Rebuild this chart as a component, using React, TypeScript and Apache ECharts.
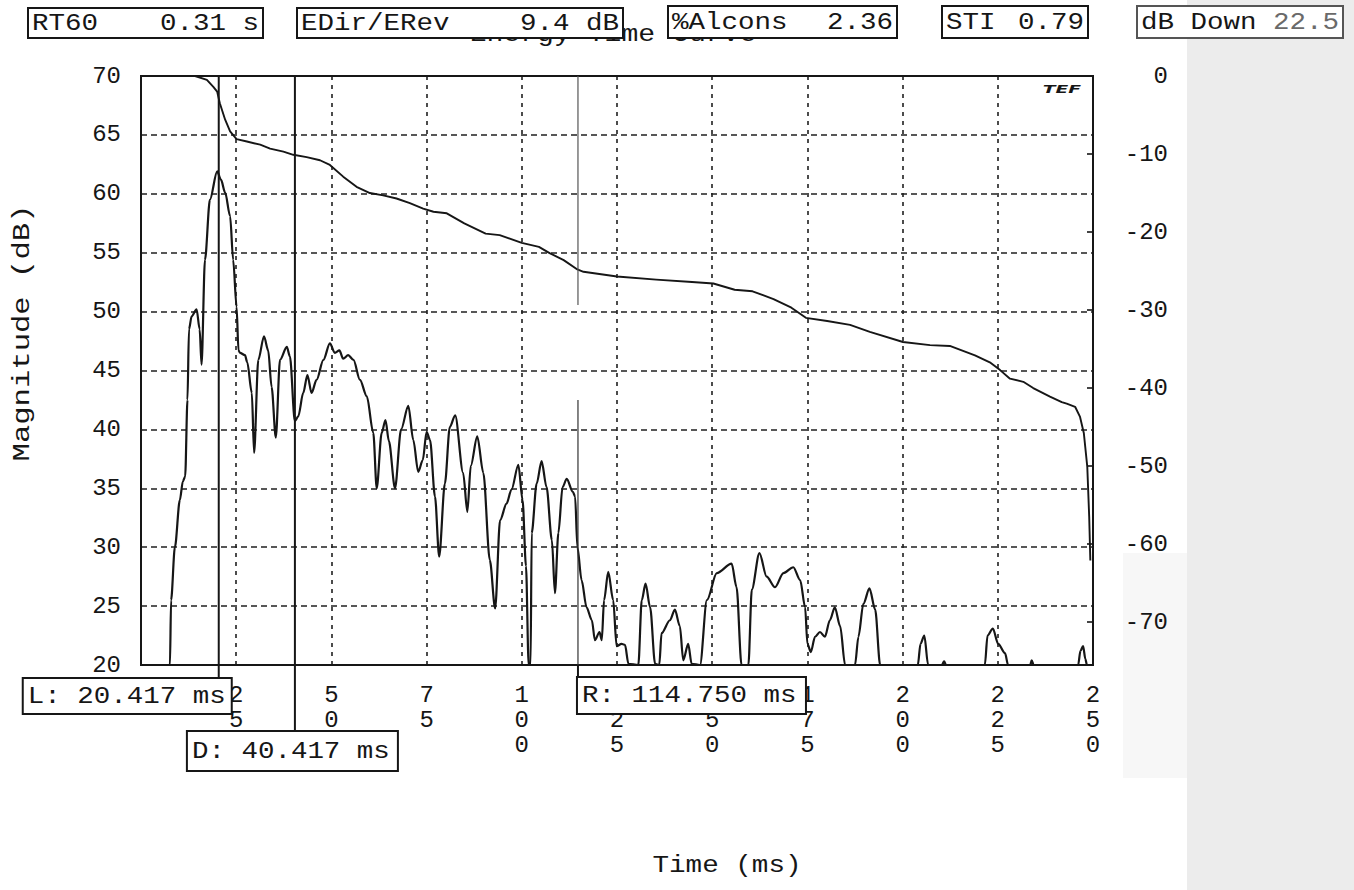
import React, { useEffect, useRef } from "react";
import * as echarts from "echarts";

// Energy time curve (ETC) samples: time in ms, level in dB (left scale)
const etcTime = [
  0.0, 7.6, 7.9, 8.9, 10.2, 11.0, 11.6, 12.2, 12.6, 13.3, 14.6, 15.4, 15.9, 16.8, 18.1, 20.0, 21.0, 22.1, 23.4,
  24.2, 25.1, 25.6, 26.0, 27.3, 27.9, 29.1, 29.7, 30.8, 32.3, 33.4, 34.3, 35.4, 36.5, 38.3, 39.1, 40.4, 41.3,
  42.6, 43.7, 44.8, 46.1, 47.9, 49.6, 50.9, 52.1, 53.1, 54.4, 55.8, 57.5, 59.3, 61.0, 61.9, 63.2, 64.2, 65.1,
  66.7, 68.3, 70.2, 71.5, 72.8, 74.0, 75.0, 75.9, 77.2, 78.3, 79.8, 81.1, 82.5, 84.6, 85.7, 86.6, 88.3, 89.9,
  91.6, 93.0, 94.3, 96.0, 97.3, 99.1, 100.2, 101.1, 101.8, 102.3, 102.6, 103.9, 105.2, 106.5, 107.9, 108.7,
  109.6, 110.7, 111.8, 113.4, 114.0, 114.6, 115.7, 117.0, 118.4, 119.2, 120.4, 121.0, 121.6, 122.7, 124.0,
  124.9, 126.2, 127.1, 128.0, 130.6, 131.5, 132.5, 133.7, 135.0, 136.1, 136.7, 138.9, 140.2, 141.5, 142.4,
  143.7, 144.6, 146.8, 148.6, 151.2, 155.1, 156.4, 157.7, 159.5, 160.4, 162.4, 164.3, 166.5, 168.7, 171.3,
  173.1, 174.4, 175.0, 175.9, 177.0, 178.3, 179.6, 180.9, 182.2, 183.6, 184.9, 187.5, 188.4, 189.7, 191.3,
  192.8, 194.1, 204.0, 204.7, 205.7, 206.7, 210.3, 210.9, 211.4, 221.6, 222.3, 223.7, 225.1, 226.9, 227.7,
  233.5, 233.9, 234.4, 246.1, 246.7, 247.4, 248.0, 248.4, 250.0,
];
const etcLevel = [
  20.0, 20.0, 25.5, 30.0, 34.0, 35.6, 36.0, 42.5, 48.5, 49.6, 50.2, 48.5, 45.5, 54.4, 59.5, 61.9, 61.2, 60.1, 58.1,
  54.4, 50.4, 46.7, 46.5, 46.3, 45.7, 43.1, 38.0, 45.9, 47.9, 46.7, 43.6, 39.3, 45.9, 47.0, 46.2, 40.7, 41.1,
  43.1, 44.6, 43.1, 44.2, 45.9, 47.3, 46.5, 46.7, 46.0, 46.3, 45.9, 44.2, 42.8, 39.7, 35.0, 39.7, 40.8, 39.0,
  35.0, 40.0, 42.0, 39.1, 36.4, 37.4, 39.8, 39.1, 34.3, 29.2, 35.4, 40.2, 41.2, 36.3, 33.0, 36.9, 39.4, 36.3,
  28.9, 24.8, 32.3, 33.7, 34.9, 37.0, 34.0, 28.4, 20.0, 20.0, 31.2, 35.4, 37.3, 35.1, 30.6, 26.1,
  31.2, 35.1, 35.8, 34.7, 34.3, 30.0, 27.2, 24.9, 23.8, 22.1, 22.8, 22.1, 25.5, 27.9, 25.5,
  21.6, 21.8, 21.7, 20.1, 20.0, 25.5, 26.9, 24.9, 20.1, 20.0, 22.7, 23.8, 24.7, 23.3, 20.4,
  21.8, 20.1, 20.0, 25.5, 27.8, 28.6, 26.6, 20.0, 20.0, 26.4, 29.5, 27.5, 26.6, 27.8, 28.3,
  27.2, 24.9, 21.8, 21.1, 22.4, 22.8, 22.4, 23.8, 24.9, 23.3, 20.0, 20.0, 22.4, 25.2, 26.5,
  24.7, 20.0, 20.0, 21.8, 22.5, 20.0, 20.0, 20.3, 20.0, 20.0, 22.5, 23.1, 21.8, 21.0, 20.0,
  20.0, 20.4, 20.0, 20.0, 21.2, 21.6, 20.5, 20.0, 20.0,
];

// Schroeder decay: time in ms, level in dB (right scale)
const decayTime = [
  0.0, 14.2, 17.3, 19.0, 20.0, 20.7, 22.1, 23.4, 25.1, 27.8, 31.3, 33.9, 37.4, 40.0, 43.5, 47.0, 49.6, 53.1,
  56.6, 60.1, 63.6, 67.1, 70.6, 74.1, 76.8, 80.3, 84.9, 90.5, 94.2, 100.0, 104.5, 107.3, 111.0, 114.6, 116.2,
  125.0, 135.3, 144.7, 150.3, 155.9, 160.6, 166.1, 170.8, 174.6, 180.2, 186.2, 191.4, 200.1, 207.2, 212.4,
  219.0, 222.9, 225.6, 228.2, 231.7, 234.3, 238.7, 241.8, 243.1, 245.3, 246.6, 247.6, 248.5, 249.0, 249.3,
];
const decayLevel = [
  0.0, 0.0, -0.5, -1.4, -2.0, -3.5, -5.6, -7.1, -8.1, -8.4, -8.8, -9.3, -9.7, -10.1, -10.4, -10.8, -11.4, -12.9,
  -14.2, -15.0, -15.3, -15.7, -16.3, -17.0, -17.4, -17.6, -18.9, -20.2, -20.4, -21.4, -21.9, -22.7, -23.6, -24.8, -25.1,
  -25.7, -26.1, -26.4, -26.6, -27.4, -27.6, -28.6, -29.7, -31.0, -31.4, -31.9, -32.8, -34.1, -34.5, -34.6,
  -35.8, -36.7, -37.7, -38.8, -39.2, -40.0, -41.1, -41.8, -42.0, -42.4, -43.7, -45.8, -50.1, -56.5, -62.1,
];

// Axis ranges
const timeRange = [0, 250];
const timeStep = 25;
const magRange = [20, 70];
const magStep = 5;
const decayRange = [-75.5, 0];

// Readouts shown along the top
const readoutNames = ["RT60", "EDir/ERev", "%Alcons", "STI", "dB Down"];
const readoutValues = ["0.31 s", "9.4 dB", "2.36", "0.79", "22.5"];

// Cursor markers
const markerNames = ["L", "D", "R"];
const markerTimes = [20.417, 40.417, 114.75];

const FONT = "'Liberation Mono', 'DejaVu Sans Mono', monospace";
const INK = "#161616";
const CHAR_W = 0.6;
const FS = 24;

const GRID = { left: 141, top: 76, width: 952, height: 589 };

// layout of the readout boxes along the top
const readoutBoxes = [
  { x: 28, y: 8, w: 235, h: 30 },
  { x: 297, y: 8, w: 326, h: 30 },
  { x: 668, y: 6, w: 229, h: 32 },
  { x: 942, y: 6, w: 146, h: 32 },
  { x: 1137, y: 6, w: 206, h: 32 },
];

function txt(
  text: string,
  x: number,
  y: number,
  size: number,
  align: string,
  scaleX: number,
  extra: any = {}
) {
  return {
    type: "text",
    x,
    y,
    scaleX,
    z: extra.z ?? 20,
    rotation: extra.rotation ?? 0,
    silent: true,
    style: {
      text,
      fontFamily: extra.fontFamily ?? FONT,
      fontSize: size,
      fontStyle: extra.fontStyle ?? "normal",
      fontWeight: extra.fontWeight ?? "normal",
      fill: extra.fill ?? INK,
      textAlign: align,
      align,
      textVerticalAlign: "middle",
      verticalAlign: "middle",
    },
  };
}

function fitScale(text: string, size: number, width: number) {
  return width / (text.length * CHAR_W * size);
}

function box(x: number, y: number, w: number, h: number, extra: any = {}) {
  return {
    type: "rect",
    z: extra.z ?? 18,
    silent: true,
    shape: { x, y, width: w, height: h },
    style: { fill: extra.fill ?? "#fff", stroke: extra.stroke ?? INK, lineWidth: extra.lineWidth ?? 2 },
  };
}

function vline(x: number, y1: number, y2: number, width: number, color: string, z = 16) {
  return {
    type: "line",
    z,
    silent: true,
    shape: { x1: x, y1, x2: x, y2 },
    style: { stroke: color, lineWidth: width },
  };
}

function buildGraphics(px: (v: number) => number) {
  const g: any[] = [];
  const BOX_SCALE = 16.5 / (CHAR_W * FS);

  // scanned paper edge on the right
  g.push({ type: "rect", z: -5, silent: true, shape: { x: 1187, y: 0, width: 167, height: 890 }, style: { fill: "#ececec" } });
  g.push({ type: "rect", z: -5, silent: true, shape: { x: 1123, y: 553, width: 64, height: 225 }, style: { fill: "#f7f7f7" } });

  // title, partly hidden by the readout boxes
  const title = "Energy Time Curve";
  g.push(txt(title, 613, 35, FS, "center", fitScale(title, FS, 287), { z: 10 }));

  // readouts
  readoutNames.forEach((name, i) => {
    const b = readoutBoxes[i];
    const last = i === readoutNames.length - 1;
    g.push(box(b.x, b.y, b.w, b.h, last ? { stroke: "#555" } : {}));
    const cy = b.y + b.h / 2 + 1;
    g.push(txt(name, b.x + 4, cy, FS, "left", BOX_SCALE));
    g.push(txt(readoutValues[i], b.x + b.w - 4, cy, FS, "right", BOX_SCALE, last ? { fill: "#6a6a6a" } : {}));
  });

  // cursor lines and their readouts
  const top = GRID.top;
  const bottom = GRID.top + GRID.height;
  const xs = markerTimes.map(px);
  const labels = markerNames.map((n, i) => `${n}: ${markerTimes[i].toFixed(3)} ms`);

  // L
  g.push(vline(xs[0], top, 678, 2, INK));
  g.push(box(xs[0] - 196, 678, 209, 36));
  g.push(txt(labels[0], xs[0] - 191, 697, FS, "left", BOX_SCALE));
  // D
  g.push(vline(xs[1], top, 733, 2, INK));
  g.push(box(xs[1] - 108, 731, 211, 40));
  g.push(txt(labels[1], xs[1] - 103, 752, FS, "left", BOX_SCALE));
  // R
  g.push(vline(xs[2], top, 305, 1.2, "#555"));
  g.push(vline(xs[2], 400, bottom, 1.2, "#333"));
  g.push(vline(xs[2], bottom, 677, 2, INK));
  g.push(box(xs[2] - 1, 677, 229, 37));
  g.push(txt(labels[2], xs[2] + 4, 696, FS, "left", BOX_SCALE));

  // axis names
  const yName = "Magnitude (dB)";
  g.push(txt(yName, 22, 333, FS, "center", fitScale(yName, FS, 257), { rotation: Math.PI / 2 }));
  const xName = "Time (ms)";
  g.push(txt(xName, 727, 866, FS, "center", fitScale(xName, FS, 149)));

  // maker's mark in the corner
  g.push(
    txt("TEF", 1062, 89, 11, "center", 1.7, {
      fontStyle: "italic",
      fontWeight: "bold",
      fontFamily: "'DejaVu Sans', sans-serif",
    })
  );
  return g;
}

export default function App() {
  const ref = useRef<HTMLDivElement>(null);

  useEffect(() => {
    document.body.style.margin = "0";
    const chart = echarts.init(ref.current!, null, { renderer: "svg" });

    const etcData = etcTime.map((t, i) => [t, etcLevel[i]]);
    const decayData = decayTime.map((t, i) => [t, decayLevel[i]]);

    const axisText = { fontFamily: FONT, fontSize: FS, color: INK };

    chart.setOption({
      animation: false,
      backgroundColor: "#ffffff",
      grid: {
        ...GRID,
        show: true,
        borderColor: INK,
        borderWidth: 2,
        backgroundColor: "transparent",
        z: 3,
      },
      xAxis: {
        type: "value",
        min: timeRange[0],
        max: timeRange[1],
        interval: timeStep,
        axisLine: { show: false },
        axisTick: { show: false },
        splitLine: { show: true, lineStyle: { color: "#202020", width: 1.6, type: [4, 5] } },
        axisLabel: {
          ...axisText,
          margin: 18,
          lineHeight: 25,
          formatter: (v: number) => String(v).split("").join("\n"),
        },
      },
      yAxis: [
        {
          type: "value",
          position: "left",
          min: magRange[0],
          max: magRange[1],
          interval: magStep,
          axisLine: { show: false },
          axisTick: { show: false },
          splitLine: { show: true, lineStyle: { color: "#202020", width: 1.6, type: [6, 4] } },
          axisLabel: { ...axisText, margin: 20 },
        },
        {
          type: "value",
          position: "right",
          min: decayRange[0],
          max: decayRange[1],
          splitNumber: 8,
          axisLine: { show: false },
          axisTick: {
            show: true,
            inside: true,
            length: 6,
            lineStyle: { color: INK, width: 1.6 },
          },
          splitLine: { show: false },
          axisLabel: {
            ...axisText,
            align: "right",
            margin: 75,
            formatter: (v: number) => (Math.abs(v % 10) < 1e-6 ? String(v) : ""),
          },
        },
      ],
      series: [
        {
          name: "ETC",
          type: "line",
          xAxisIndex: 0,
          yAxisIndex: 0,
          data: etcData,
          showSymbol: false,
          smooth: 0.3,
          smoothMonotone: "x",
          clip: true,
          z: 5,
          lineStyle: { color: INK, width: 2.2, join: "round" },
        },
        {
          name: "Decay",
          type: "line",
          xAxisIndex: 0,
          yAxisIndex: 1,
          data: decayData,
          showSymbol: false,
          clip: true,
          z: 5,
          lineStyle: { color: INK, width: 1.9, join: "round" },
        },
      ],
    });

    const px = (v: number) => chart.convertToPixel({ xAxisIndex: 0 }, v) as number;
    chart.setOption({ graphic: buildGraphics(px) });

    return () => chart.dispose();
  }, []);

  return <div ref={ref} style={{ width: 1354, height: 890 }} />;
}
